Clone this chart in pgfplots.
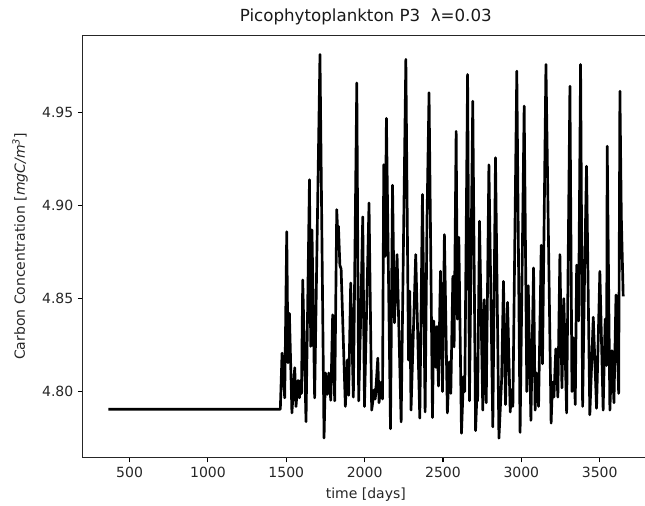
\documentclass[border=0pt]{standalone}
\usepackage{fontspec}
\setmainfont{DejaVu Sans}
\usepackage{pgfplots}
\pgfplotsset{compat=1.18}
\usepackage{pgfplotstable}

% P3 carbon concentration (local extremes)
\pgfplotstableread{
t c
365 4.7905
1462 4.7905
1473 4.8207
1490 4.7966
1503 4.886
1511 4.8155
1520 4.842
1536 4.7885
1554 4.8128
1562 4.7919
1575 4.806
1584 4.7966
1592 4.806
1597 4.799
1605 4.860
1626 4.7838
1648 4.914
1656 4.8243
1664 4.887
1681 4.7966
1715 4.9814
1741 4.7750
1750 4.810
1762 4.7985
1771 4.810
1784 4.7953
1796 4.8413
1809 4.795
1822 4.8979
1828 4.886
1833 4.889
1842 4.868
1850 4.866
1877 4.792
1890 4.817
1898 4.798
1911 4.8584
1928 4.797
1950 4.966
1962 4.795
1975 4.8404
1988 4.894
1999 4.7919
2028 4.9015
2045 4.790
2062 4.801
2068 4.796
2084 4.818
2092 4.794
2105 4.805
2114 4.796
2122 4.922
2131 4.8727
2139 4.947
2165 4.780
2178 4.911
2190 4.837
2207 4.8737
2233 4.7837
2263 4.9787
2280 4.817
2288 4.854
2296 4.790
2326 4.8737
2352 4.7857
2369 4.906
2386 4.789
2398 4.8925
2411 4.9608
2433 4.786
2441 4.838
2454 4.813
2462 4.835
2471 4.803
2484 4.8647
2497 4.800
2509 4.8844
2528 4.7885
2541 4.816
2550 4.799
2563 4.862
2571 4.824
2584 4.940
2592 4.839
2601 4.883
2618 4.7776
2631 4.808
2639 4.800
2657 4.9706
2669 4.795
2690 4.9562
2708 4.779
2716 4.797
2721 4.795
2733 4.8916
2754 4.790
2763 4.8494
2776 4.794
2793 4.922
2818 4.781
2835 4.9258
2857 4.7749
2874 4.806
2886 4.8593
2899 4.793
2912 4.848
2929 4.789
2937 4.801
2946 4.792
2971 4.9724
2992 4.778
3018 4.9536
3035 4.800
3044 4.857
3061 4.7845
3078 4.8665
3088 4.790
3097 4.810
3110 4.792
3127 4.8787
3135 4.815
3157 4.976
3190 4.783
3199 4.805
3208 4.797
3220 4.823
3233 4.797
3246 4.8737
3259 4.802
3271 4.850
3289 4.7885
3310 4.9643
3323 4.800
3331 4.829
3344 4.793
3353 4.868
3365 4.838
3378 4.976
3391 4.792
3404 4.866
3416 4.9212
3437 4.7875
3450 4.818
3459 4.840
3480 4.791
3501 4.8647
3522 4.790
3535 4.839
3544 4.814
3548 4.932
3565 4.790
3578 4.822
3591 4.794
3604 4.852
3621 4.799
3629 4.9616
3638 4.894
3650 4.8512
}\pthree

\begin{document}
\begin{tikzpicture}
\begin{axis}[
    at={(0,0)}, anchor=south west,
    scale only axis,
    width=424.7pt, height=317pt,
    xmin=200.75, xmax=3814.25,
    ymin=4.7644, ymax=4.9918,
    xtick={500,1000,...,3500},
    ytick={4.80,4.85,4.90,4.95},
    yticklabel style={/pgf/number format/.cd, fixed, fixed zerofill, precision=2},
    xticklabel style={/pgf/number format/.cd, 1000 sep={}},
    /pgf/number format/assume math mode=true,
    tick align=outside,
    xtick pos=bottom, ytick pos=left,
    major tick length=3.5pt,
    tick style={black, line width=0.8pt},
    axis line style={black!85, line width=0.8pt},
    ticklabel style={font=\fontsize{10.5}{12}\selectfont, text=black!85},
    every axis title/.style={at={(axis description cs:0.5,1)}, anchor=south, yshift=4pt,
        font=\fontsize{12.5}{14}\selectfont, text=black!90},
    every axis x label/.style={at={(axis description cs:0.5,0)}, anchor=center, yshift=-28pt,
        font=\fontsize{10.5}{12}\selectfont, text=black!85},
    every axis y label/.style={at={(axis description cs:-0.1107,0.5)}, anchor=center, rotate=90,
        font=\fontsize{10.5}{12}\selectfont, text=black!85},
    title={Picophytoplankton P3\ \ λ=0.03},
    xlabel={time [days]},
    ylabel={Carbon Concentration [{\itshape mgC/m}\textsuperscript{\itshape 3}]},
]
\addplot[black, line width=2pt, line join=round, no marks] table[x=t, y=c] {\pthree};
\end{axis}
\pgfresetboundingbox
\path[use as bounding box] (-62pt,-36.2pt) rectangle (421.75pt,343.3pt);
\end{tikzpicture}
\end{document}
